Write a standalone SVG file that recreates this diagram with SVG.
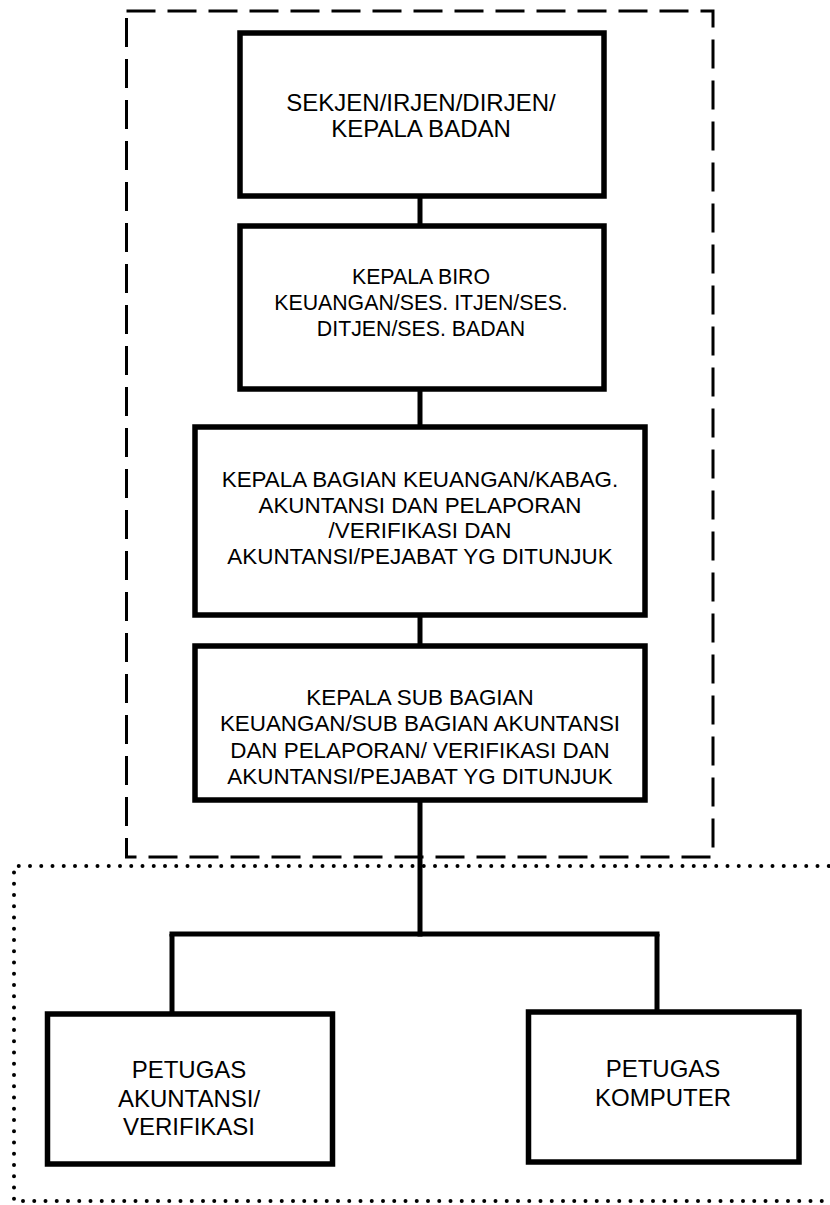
<svg xmlns="http://www.w3.org/2000/svg" width="830" height="1205" viewBox="0 0 830 1205">
<style>
.box{fill:#fff;stroke:#000;stroke-width:5.5}
.t{font-family:"Liberation Sans",Arial,sans-serif;font-size:22.4px;fill:#000;text-anchor:middle}
.t1{font-family:"Liberation Sans",Arial,sans-serif;font-size:24px;fill:#000;text-anchor:middle}
.t2{font-family:"Liberation Sans",Arial,sans-serif;font-size:21.3px;fill:#000;text-anchor:middle}
.tl{font-family:"Liberation Sans",Arial,sans-serif;font-size:24px;fill:#000;text-anchor:middle}
.c{stroke:#000;stroke-width:5;fill:none}
</style>
<rect width="830" height="1205" fill="#fff"/>
<g id="group-dashed">
<rect x="126.5" y="11" width="586.5" height="846" fill="none" stroke="#000" stroke-width="3" stroke-dasharray="29 12"/>
</g>
<g id="group-dotted">
<path d="M840 866 H14 V1201 H840" fill="none" stroke="#000" stroke-width="4" stroke-linecap="round" stroke-dasharray="0 11.25"/>
</g>
<g id="connectors">
<line class="c" x1="420" y1="196" x2="420" y2="226"/>
<line class="c" x1="420" y1="389" x2="420" y2="427"/>
<line class="c" x1="420" y1="615" x2="420" y2="646"/>
<line class="c" x1="420" y1="800" x2="420" y2="936.5"/>
<line class="c" x1="169.5" y1="934" x2="659.5" y2="934"/>
<line class="c" x1="172" y1="934" x2="172" y2="1014"/>
<line class="c" x1="657" y1="934" x2="657" y2="1012"/>
</g>
<g id="n1">
<rect class="box" x="240" y="33" width="364" height="163"/>
<text class="t1" x="421" y="111">SEKJEN/IRJEN/DIRJEN/</text>
<text class="t1" x="421" y="137">KEPALA BADAN</text>
</g>
<g id="n2">
<rect class="box" x="240" y="226" width="364" height="163"/>
<text class="t2" x="421" y="284">KEPALA BIRO</text>
<text class="t2" x="421" y="310">KEUANGAN/SES. ITJEN/SES.</text>
<text class="t2" x="421" y="336">DITJEN/SES. BADAN</text>
</g>
<g id="n3">
<rect class="box" x="195" y="427" width="450" height="188"/>
<text class="t" x="420" y="487">KEPALA BAGIAN KEUANGAN/KABAG.</text>
<text class="t" x="420" y="513">AKUNTANSI DAN PELAPORAN</text>
<text class="t" x="420" y="538">/VERIFIKASI DAN</text>
<text class="t" x="420" y="564">AKUNTANSI/PEJABAT YG DITUNJUK</text>
</g>
<g id="n4">
<rect class="box" x="195" y="646" width="450" height="154"/>
<text class="t" x="420" y="705">KEPALA SUB BAGIAN</text>
<text class="t" x="420" y="731">KEUANGAN/SUB BAGIAN AKUNTANSI</text>
<text class="t" x="420" y="758">DAN PELAPORAN/ VERIFIKASI DAN</text>
<text class="t" x="420" y="784">AKUNTANSI/PEJABAT YG DITUNJUK</text>
</g>
<g id="n5">
<rect class="box" x="47.5" y="1014" width="285" height="150"/>
<text class="tl" x="189" y="1078">PETUGAS</text>
<text class="tl" x="189" y="1107">AKUNTANSI/</text>
<text class="tl" x="189" y="1135">VERIFIKASI</text>
</g>
<g id="n6">
<rect class="box" x="528.5" y="1012" width="270.5" height="150"/>
<text class="tl" x="663" y="1077">PETUGAS</text>
<text class="tl" x="663" y="1106">KOMPUTER</text>
</g>
</svg>
